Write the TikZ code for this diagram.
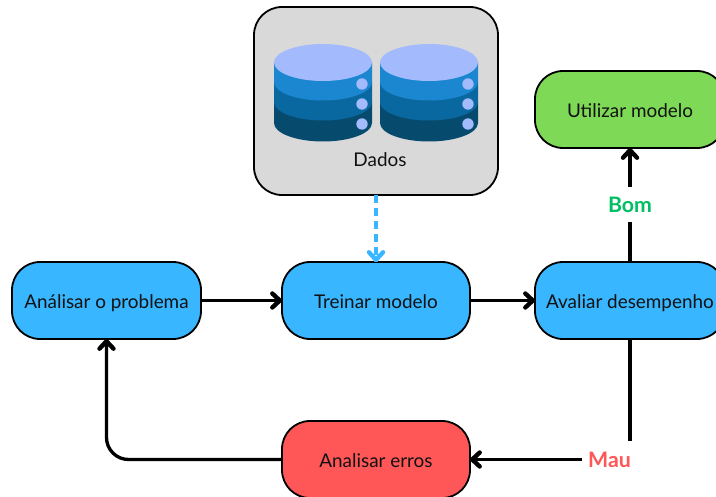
\documentclass[tikz,border=0pt]{standalone}
\usepackage{fontspec}
\setmainfont{Lato}
\usetikzlibrary{arrows.meta}
\definecolor{bluebox}{HTML}{38B6FF}
\definecolor{greenbox}{HTML}{7ED957}
\definecolor{redbox}{HTML}{FF5757}
\definecolor{graybox}{HTML}{D9D9D9}
\definecolor{goodtxt}{HTML}{00BF63}
\definecolor{diskTop}{HTML}{A3BAFC}
\definecolor{diskA}{HTML}{1C87D1}
\definecolor{diskB}{HTML}{0A68A0}
\definecolor{diskC}{HTML}{064B6E}
\definecolor{inkc}{HTML}{111111}
\tikzset{
  x=1pt,y=-1pt,
  boxtext/.style={text=inkc,font=\fontsize{18.9}{22}\selectfont,text height=19.5pt,text depth=3.5pt,inner sep=0pt,outer sep=0pt},
  stepbox/.style={boxtext,draw=black,line width=1.8pt,rounded corners=28pt,minimum width=#1,minimum height=77pt},
  stepbox/.default=188pt,
  tipbarb/.tip={Straight Barb[length=7.5pt,width=14pt,line width=4.4pt,round]},
  flow/.style={line width=3.3pt,draw=black,-tipbarb},
  plainflow/.style={line width=3.3pt,draw=black},
  lbl/.style={font=\fontsize{21.3}{25}\selectfont\bfseries,text height=19.5pt,text depth=3.5pt,inner sep=0pt,outer sep=0pt},
}
\newcommand{\dbdisk}[1]{%
  \begin{scope}[shift={(#1,0)}]
    \fill[diskC] (-49,102) -- (-49,123) arc[start angle=180,end angle=360,x radius=49,y radius=-18.5] -- (49,102) -- cycle;
    \fill[diskB] (-49,82) -- (-49,102) arc[start angle=180,end angle=360,x radius=49,y radius=-18.5] -- (49,82) -- cycle;
    \fill[diskA] (-49,62.5) -- (-49,82) arc[start angle=180,end angle=360,x radius=49,y radius=-18.5] -- (49,62.5) -- cycle;
    \fill[diskTop] (0,62.5) ellipse[x radius=49,y radius=18.5];
    \foreach \yy in {84,104,124} \fill[diskTop] (39,\yy) circle[radius=5.7];
  \end{scope}}
\begin{document}
\begin{tikzpicture}
\clip (0,0) rectangle (716,497);
\fill[white] (0,0) rectangle (716,497);
% data box
\node[stepbox=244pt,minimum height=188pt,fill=graybox] (dados) at (376,101) {};
\dbdisk{323}
\dbdisk{429}
\node[boxtext] (dadoslbl) at (380,159) {Dados};
% steps
\node[stepbox=189pt,fill=bluebox] (analisar) at (106.5,300.5) {Análisar o problema};
\node[stepbox,fill=bluebox] (treinar) at (376,300.5) {Treinar modelo};
\node[stepbox=190pt,fill=bluebox] (avaliar) at (630,300.5) {};
\node[boxtext] (avaliarlbl) at (630,300.5) {Avaliar desempenho};
\node[stepbox=190pt,fill=greenbox] (utilizar) at (630,109.5) {Utilizar modelo};
\node[stepbox,fill=redbox] (erros) at (376,459.5) {Analisar erros};
% labels on connectors
\node[lbl,text=goodtxt,minimum height=35pt] (bom) at (630,204.5) {Bom};
\node[lbl,text=redbox,minimum height=36pt,inner xsep=6pt] (mau) at (609.5,459.5) {Mau};
% connectors
\draw[flow] (analisar.east) -- (treinar.west);
\draw[flow] (treinar.east) -- (avaliar.west);
\draw[plainflow] (avaliar.north) -- (bom.south);
\draw[flow] (bom.north) -- (utilizar.south);
\draw[plainflow] (avaliar.south) ++(0,1.5) -- (avaliar.south |- mau.north);
\draw[flow] (mau.west) -- (erros.east);
\draw[flow,rounded corners=22pt] (erros.west) -- (analisar.south |- erros.west) -- (analisar.south);
\draw[plainflow,draw=bluebox,line width=3.8pt,dash pattern=on 8.5pt off 4.5pt] (dados.south) -- (treinar.north);
\draw[flow,draw=bluebox] (treinar.north) ++(0,-4) -- (treinar.north);
\end{tikzpicture}
\end{document}
